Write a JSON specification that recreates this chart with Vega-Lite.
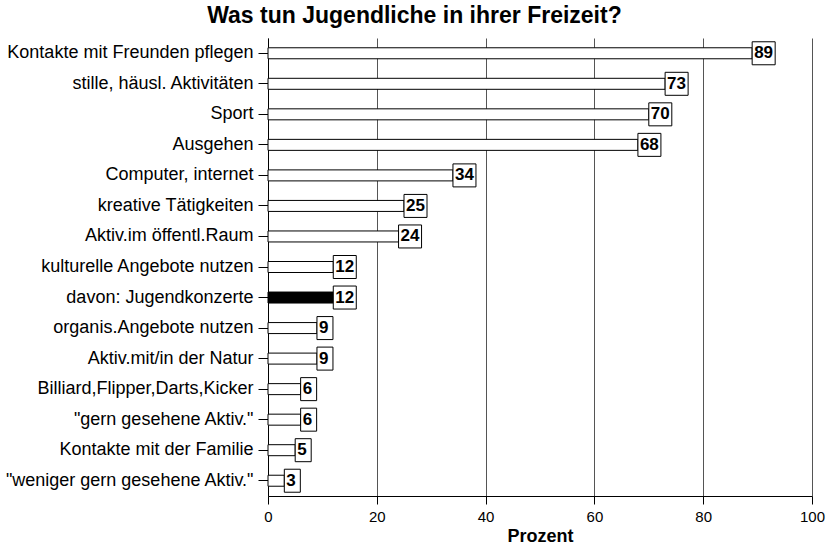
{
  "$schema": "https://vega.github.io/schema/vega-lite/v6.json",
  "autosize": {"type": "none"},
  "padding": {"left": 268, "top": 38, "right": 18, "bottom": 49},
  "width": 544,
  "height": 458,
  "background": "white",
  "title": {
    "text": "Was tun Jugendliche in ihrer Freizeit?",
    "anchor": "middle",
    "frame": "bounds",
    "font": "Liberation Sans",
    "fontSize": 23,
    "fontWeight": "bold",
    "color": "black",
    "offset": 10
  },
  "config": {
    "view": {"stroke": null},
    "axis": {"labelFont": "Liberation Sans", "titleFont": "Liberation Sans", "labelColor": "black", "titleColor": "black", "domainColor": "black", "tickColor": "black"}
  },
  "data": {
    "values": [
      {"label": "Kontakte mit Freunden pflegen", "value": 89},
      {"label": "stille, häusl. Aktivitäten", "value": 73},
      {"label": "Sport", "value": 70},
      {"label": "Ausgehen", "value": 68},
      {"label": "Computer, internet", "value": 34},
      {"label": "kreative Tätigkeiten", "value": 25},
      {"label": "Aktiv.im öffentl.Raum", "value": 24},
      {"label": "kulturelle Angebote nutzen", "value": 12},
      {"label": "davon: Jugendkonzerte", "value": 12},
      {"label": "organis.Angebote nutzen", "value": 9},
      {"label": "Aktiv.mit/in der Natur", "value": 9},
      {"label": "Billiard,Flipper,Darts,Kicker", "value": 6},
      {"label": "\"gern gesehene Aktiv.\"", "value": 6},
      {"label": "Kontakte mit der Familie", "value": 5},
      {"label": "\"weniger gern gesehene Aktiv.\"", "value": 3}
    ]
  },
  "encoding": {
    "y": {
      "field": "label", "type": "nominal", "sort": null,
      "scale": {"paddingInner": 0, "paddingOuter": 0},
      "axis": {"title": null, "labelFontSize": 18, "labelPadding": 5, "tickSize": 10, "domainWidth": 1, "labelLimit": 400}
    }
  },
  "layer": [
    {
      "mark": {"type": "bar", "height": 11, "stroke": "black", "strokeWidth": 1},
      "encoding": {
        "x": {
          "field": "value", "type": "quantitative",
          "scale": {"domain": [0, 100], "nice": false},
          "axis": {"values": [0, 20, 40, 60, 80, 100], "title": "Prozent", "titleFontSize": 18, "titleFontWeight": "bold", "titlePadding": 3, "labelFontSize": 15, "labelPadding": 5, "tickSize": 8, "grid": true, "gridColor": "#555555", "gridOpacity": 1, "gridWidth": 1, "labelFlush": false}
        },
        "fill": {
          "condition": {"test": "datum.label === 'davon: Jugendkonzerte'", "value": "black"},
          "value": "white"
        }
      }
    },
    {
      "transform": [{"filter": "datum.value >= 10"}],
      "mark": {"type": "bar", "height": 23, "fill": "white", "stroke": "black", "strokeWidth": 1, "x2Offset": 23},
      "encoding": {
        "x": {"field": "value", "type": "quantitative"},
        "x2": {"field": "value"}
      }
    },
    {
      "transform": [{"filter": "datum.value < 10"}],
      "mark": {"type": "bar", "height": 23, "fill": "white", "stroke": "black", "strokeWidth": 1, "x2Offset": 16},
      "encoding": {
        "x": {"field": "value", "type": "quantitative"},
        "x2": {"field": "value"}
      }
    },
    {
      "mark": {"type": "text", "align": "left", "baseline": "middle", "dx": 2, "font": "Liberation Sans", "fontSize": 17, "fontWeight": "bold", "color": "black"},
      "encoding": {
        "x": {"field": "value", "type": "quantitative"},
        "text": {"field": "value", "type": "quantitative"}
      }
    }
  ]
}
